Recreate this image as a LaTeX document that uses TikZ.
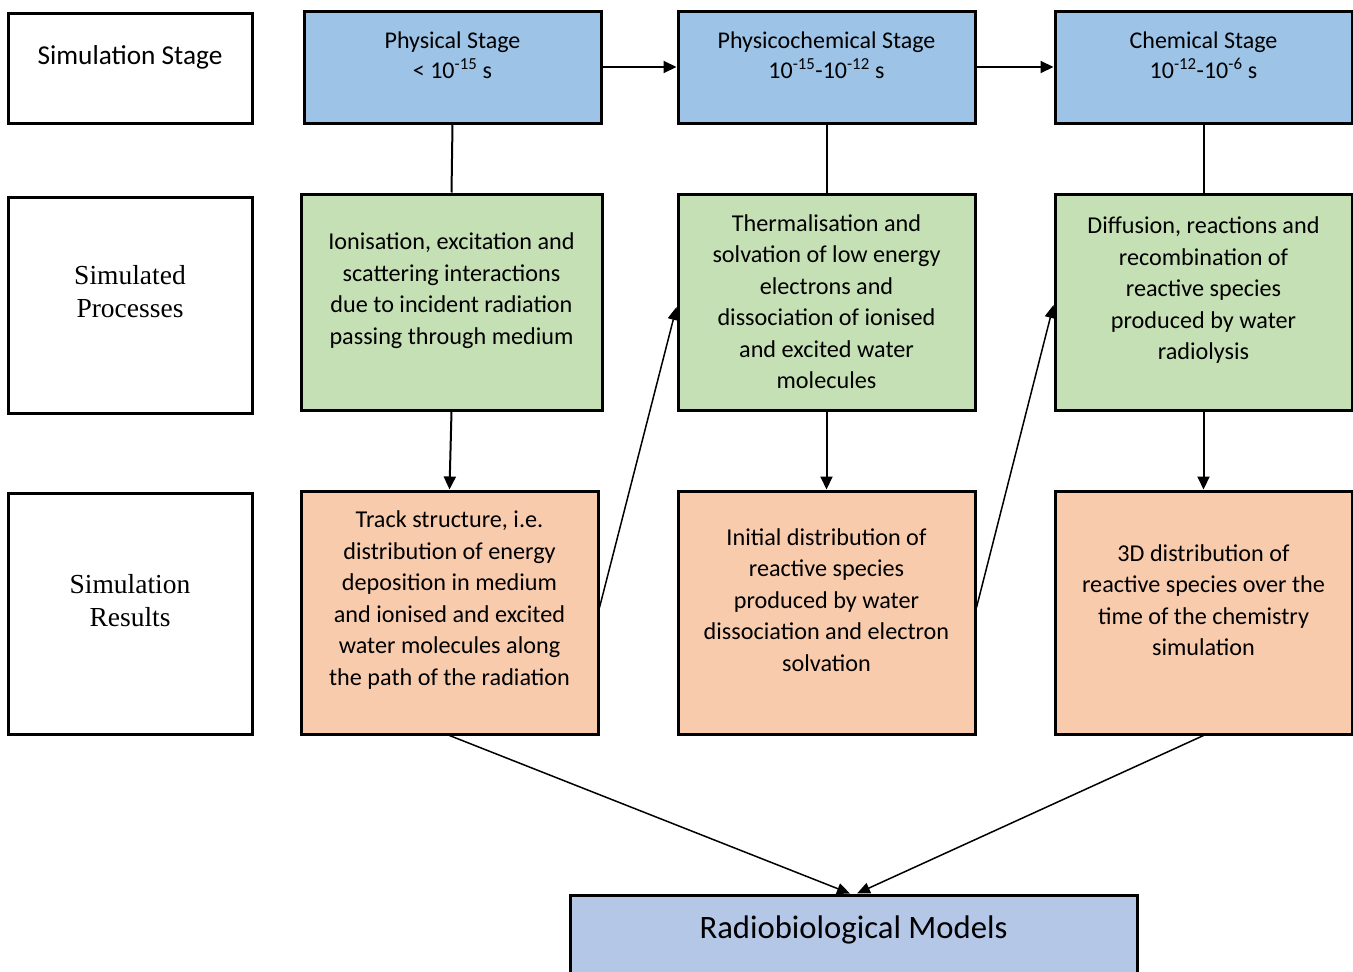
\documentclass[tikz,border=0pt]{standalone}
\usepackage{fontspec}
\setmainfont{Carlito}
\newfontfamily\serifX{Liberation Serif}
\usetikzlibrary{arrows.meta,calc}
\definecolor{stageblue}{HTML}{9DC3E6}
\definecolor{procgreen}{HTML}{C5E0B4}
\definecolor{resorange}{HTML}{F8CBAD}
\definecolor{modelblue}{HTML}{B4C7E7}
\tikzset{
  box/.style={draw=black, line width=3pt, inner sep=0pt},
  txt/.style={align=center, font=\fontsize{24.2}{31.5}\selectfont, inner sep=0pt},
  stxt/.style={align=center, font=\serifX\fontsize{27.5}{33}\selectfont, inner sep=0pt},
  conn/.style={draw=black, line width=2pt},
  arr/.style={conn, -{Triangle[length=13pt,width=12pt]}},
  thin arr/.style={draw=black, line width=1.5pt, -{Triangle[length=13pt,width=11pt]}}
}
\begin{document}
\begin{tikzpicture}[x=1pt,y=-1pt]
\useasboundingbox[fill=white] (0,0) rectangle (1353,972);
% left labels
\node[box, minimum width=244pt, minimum height=110pt] (lab1) at (130,68) {};
\node[txt, font=\fontsize{27.3}{30}\selectfont] (lab1t) at (130,57) {Simulation Stage};
\node[box, minimum width=244pt, minimum height=216pt] (lab2) at (130,305) {};
\node[stxt] (lab2t) at (130,292) {Simulated\\Processes};
\node[box, minimum width=244pt, minimum height=241pt] (lab3) at (130,613.5) {};
\node[stxt] (lab3t) at (130,601) {Simulation\\Results};
% stage boxes
\node[box, fill=stageblue, minimum width=297pt, minimum height=112pt] (b1) at (452.5,67) {};
\node[box, fill=stageblue, minimum width=297pt, minimum height=112pt] (b2) at (826.5,67) {};
\node[box, fill=stageblue, minimum width=297pt, minimum height=112pt] (b3) at (1203.5,67) {};
\node[txt, font=\fontsize{24}{30}\selectfont] (b1t) at (452.5,55) {Physical Stage\\< 10\textsuperscript{-15} s};
\node[txt, font=\fontsize{24}{30}\selectfont] (b2t) at (826.5,55) {Physicochemical Stage\\10\textsuperscript{-15}-10\textsuperscript{-12} s};
\node[txt, font=\fontsize{24}{30}\selectfont] (b3t) at (1203.5,55) {Chemical Stage\\10\textsuperscript{-12}-10\textsuperscript{-6} s};
% process boxes
\node[box, fill=procgreen, minimum width=301pt, minimum height=216pt] (g1) at (451.5,302) {};
\node[box, fill=procgreen, minimum width=297pt, minimum height=216pt] (g2) at (826.5,302) {};
\node[box, fill=procgreen, minimum width=297pt, minimum height=216pt] (g3) at (1203.5,302) {};
\node[txt] (g1t) at (451.5,290.5) {Ionisation, excitation and\\scattering interactions\\due to incident radiation\\passing through medium};
\node[txt] (g2t) at (826.5,301.5) {Thermalisation and\\solvation of low energy\\electrons and\\dissociation of ionised\\and excited water\\molecules};
\node[txt] (g3t) at (1203.5,290.5) {Diffusion, reactions and\\recombination of\\reactive species\\produced by water\\radiolysis};
% result boxes
\node[box, fill=resorange, minimum width=297pt, minimum height=243pt] (o1) at (449.5,612.5) {};
\node[box, fill=resorange, minimum width=297pt, minimum height=243pt] (o2) at (826.5,612.5) {};
\node[box, fill=resorange, minimum width=297pt, minimum height=243pt] (o3) at (1203.5,612.5) {};
\node[txt] (o1t) at (449.5,600) {Track structure, i.e.\\distribution of energy\\deposition in medium\\and ionised and excited\\water molecules along\\the path of the radiation};
\node[txt] (o2t) at (826.5,600) {Initial distribution of\\reactive species\\produced by water\\dissociation and electron\\solvation};
\node[txt] (o3t) at (1203.5,600) {3D distribution of\\reactive species over the\\time of the chemistry\\simulation};
% models box
\node[box, fill=modelblue, minimum width=567pt, minimum height=100pt] (rm) at (853.5,945) {};
\node[txt, font=\fontsize{32.7}{36}\selectfont] (rmt) at (853.5,930) {Radiobiological Models};
% connectors
\draw[arr] (b1.east) -- (b2.west);
\draw[arr] (b2.east) -- (b3.west);
\draw[conn] (b1.south) -- (g1.north);
\draw[conn] (b2.south) -- (g2.north);
\draw[conn] (b3.south) -- (g3.north);
\draw[arr] (g1.south) -- (o1.north);
\draw[arr] (g2.south) -- (o2.north);
\draw[arr] (g3.south) -- (o3.north);
\draw[thin arr] ([yshift=5pt]o1.east) -- ([yshift=-5pt]g2.west);
\draw[thin arr] ([yshift=5pt]o2.east) -- ([yshift=-3pt]g3.west);
\draw[thin arr] (o1.south) -- ([xshift=-3.5pt]rm.north);
\draw[thin arr] (o3.south) -- ([xshift=3.5pt]rm.north);
\end{tikzpicture}
\end{document}
